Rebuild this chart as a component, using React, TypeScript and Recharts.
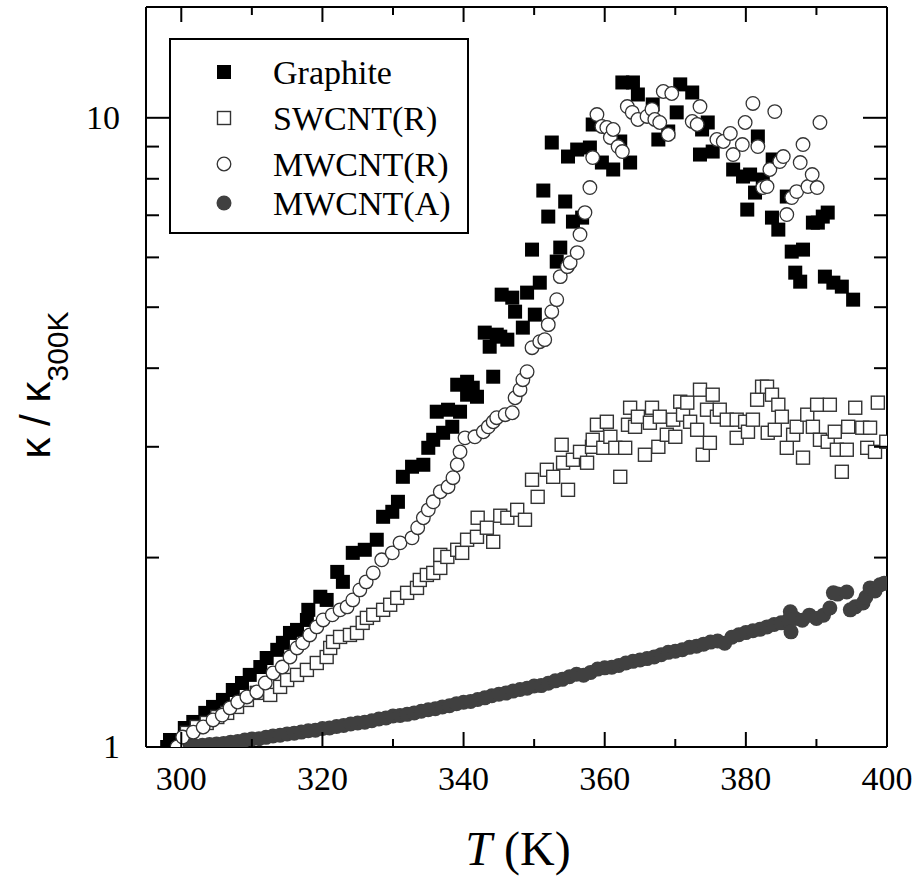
import React from 'react';
import { ScatterChart, Scatter, XAxis, YAxis, Legend } from 'recharts';

// temperature ticks (K) and which of them carry a label
const xTicks = [300, 310, 320, 330, 340, 350, 360, 370, 380, 390, 400];
const xLabels = [300, 320, 340, 360, 380, 400];
// log axis ticks for kappa / kappa_300K
const yTicks = [1, 2, 3, 4, 5, 6, 7, 8, 9, 10];
const yLabels = [1, 10];

// [T (K), kappa / kappa_300K]
const graphite: [number, number][] = [
  [298.0, 1.0], [298.4, 1.026], [300.5, 1.072], [301.7, 1.096], [303.4, 1.133], [304.5, 1.158],
  [305.9, 1.188], [307.3, 1.232], [308.6, 1.264], [309.7, 1.302], [311.2, 1.34], [312.1, 1.385],
  [313.6, 1.427], [314.4, 1.464], [315.4, 1.518], [316.4, 1.535], [317.8, 1.592], [318.0, 1.652],
  [319.7, 1.733], [320.6, 1.713], [322.1, 1.898], [322.9, 1.83], [324.3, 2.035], [326.0, 2.058],
  [327.7, 2.135], [328.6, 2.322], [329.9, 2.365], [330.7, 2.453], [331.4, 2.688], [332.7, 2.789],
  [334.3, 2.809], [335.0, 2.989], [335.7, 3.078], [336.2, 3.411], [337.1, 3.158], [337.8, 3.436],
  [338.4, 3.228], [339.1, 3.765], [339.5, 3.411], [340.5, 3.806], [340.5, 3.63], [341.3, 3.724],
  [341.9, 3.603], [343.0, 4.556], [343.7, 4.327], [344.2, 3.877], [344.7, 4.522], [345.2, 4.489],
  [345.4, 5.235], [346.2, 4.44], [346.9, 5.178], [347.3, 4.919], [348.4, 4.64], [349.0, 5.274],
  [349.7, 6.173], [350.1, 4.866], [350.8, 5.47], [351.3, 7.663], [352.0, 6.966], [352.5, 9.135],
  [353.2, 5.908], [353.7, 6.219], [354.4, 7.361], [354.8, 8.678], [355.5, 6.839], [356.1, 8.903],
  [356.8, 6.94], [357.9, 8.969], [358.3, 9.757], [359.6, 8.49], [361.2, 8.276], [362.2, 9.169],
  [362.5, 11.38], [363.6, 8.49], [364.0, 11.38], [364.7, 10.89], [366.8, 10.5], [367.6, 9.236],
  [369.0, 9.511], [370.2, 10.2], [370.7, 11.3], [372.4, 10.97], [373.5, 8.742], [373.8, 9.581],
  [374.6, 9.83], [375.3, 8.838], [378.2, 8.276], [379.6, 8.066], [380.2, 7.147], [380.6, 8.125],
  [381.3, 7.606], [381.7, 9.339], [382.4, 7.978], [383.7, 6.94], [383.8, 8.585], [384.6, 6.642],
  [385.8, 7.496], [386.5, 6.128], [387.0, 5.674], [387.7, 5.49], [388.1, 6.173], [389.5, 6.814],
  [390.2, 6.814], [390.9, 6.966], [391.2, 5.592], [391.6, 7.069], [392.4, 5.47], [393.6, 5.391],
  [395.2, 5.14],
];

const swcntR: [number, number][] = [
  [300.8, 1.053], [302.2, 1.076], [303.6, 1.092], [305.1, 1.116], [306.5, 1.133], [307.9, 1.158],
  [309.3, 1.188], [310.7, 1.219], [312.6, 1.21], [314.0, 1.246], [315.0, 1.278], [316.4, 1.302],
  [317.8, 1.326], [319.2, 1.36], [320.6, 1.39], [321.1, 1.437], [321.5, 1.469], [322.5, 1.496],
  [323.9, 1.507], [324.9, 1.518], [325.7, 1.575], [326.3, 1.604], [327.2, 1.622], [328.6, 1.652],
  [329.6, 1.683], [330.6, 1.726], [332.0, 1.758], [333.4, 1.79], [333.8, 1.843], [334.8, 1.877],
  [335.7, 1.891], [336.7, 1.926], [336.7, 2.02], [337.7, 2.005], [339.1, 2.058], [339.8, 2.035],
  [340.5, 2.135], [341.9, 2.158], [342.0, 2.314], [343.3, 2.231], [344.2, 2.119], [345.2, 2.331],
  [346.2, 2.314], [347.6, 2.382], [348.7, 2.297], [349.7, 2.659], [350.5, 2.498], [351.8, 2.758],
  [352.7, 2.688], [353.9, 3.022], [354.1, 2.83], [354.8, 2.563], [355.5, 2.861], [356.5, 2.945],
  [357.5, 2.83], [358.2, 3.0], [358.3, 3.078], [358.9, 3.252], [359.8, 2.989], [360.3, 3.288],
  [360.8, 3.112], [361.5, 2.989], [362.2, 2.688], [362.9, 2.989], [363.3, 3.252], [363.6, 3.461],
  [364.3, 3.228], [364.7, 3.349], [365.7, 2.914], [366.4, 3.276], [366.7, 3.461], [367.6, 3.0],
  [367.8, 3.349], [368.8, 3.135], [369.7, 3.313], [370.0, 3.112], [370.7, 3.538], [371.1, 3.374],
  [371.7, 3.526], [372.1, 3.288], [373.1, 3.193], [373.5, 3.697], [373.9, 2.914], [374.5, 3.436],
  [374.9, 3.044], [375.3, 3.63], [375.9, 3.349], [376.3, 3.436], [377.3, 3.313], [378.7, 3.1],
  [378.7, 3.313], [379.9, 3.288], [380.3, 3.17], [381.0, 3.313], [381.6, 3.564], [382.3, 3.738],
  [383.0, 3.738], [383.1, 3.158], [383.7, 3.63], [384.1, 3.193], [384.6, 3.499], [385.1, 3.349],
  [385.8, 2.989], [386.7, 3.135], [387.2, 3.228], [388.1, 2.883], [388.7, 3.374], [389.5, 3.228],
  [390.1, 3.499], [390.5, 3.078], [391.6, 3.056], [391.9, 3.499], [392.6, 3.17], [392.9, 2.968],
  [393.6, 2.738], [394.3, 2.968], [394.5, 3.228], [395.5, 3.461], [396.5, 3.217], [397.2, 2.989],
  [397.6, 3.217], [398.3, 2.945], [398.7, 3.526], [399.9, 3.056],
];

const mwcntR: [number, number][] = [
  [299.4, 1.0], [300.2, 1.037], [301.7, 1.056], [303.1, 1.076], [304.5, 1.104], [305.8, 1.124],
  [306.9, 1.154], [308.0, 1.179], [309.3, 1.201], [310.7, 1.223], [311.9, 1.264], [313.0, 1.311],
  [314.3, 1.34], [315.4, 1.39], [316.4, 1.437], [317.2, 1.464], [318.2, 1.507], [319.2, 1.552],
  [320.1, 1.592], [321.4, 1.622], [322.5, 1.652], [323.5, 1.67], [324.3, 1.713], [325.3, 1.777],
  [326.2, 1.83], [327.2, 1.891], [328.4, 1.984], [329.9, 2.035], [331.0, 2.111], [332.7, 2.15],
  [333.5, 2.231], [334.3, 2.314], [335.0, 2.382], [335.7, 2.453], [336.7, 2.545], [337.8, 2.592],
  [338.5, 2.679], [339.1, 2.809], [339.5, 2.945], [340.2, 3.1], [341.6, 3.112], [342.8, 3.17],
  [343.5, 3.228], [344.2, 3.288], [344.7, 3.337], [345.9, 3.374], [346.9, 3.398], [347.3, 3.59],
  [348.0, 3.697], [348.4, 3.835], [349.0, 3.949], [349.7, 4.311], [350.8, 4.407], [351.5, 4.44],
  [352.0, 4.691], [352.5, 4.919], [353.2, 5.14], [353.7, 5.592], [354.7, 5.8], [355.1, 5.886],
  [356.1, 6.106], [356.5, 6.523], [357.2, 7.069], [357.9, 7.747], [358.3, 8.646], [358.9, 10.12],
  [359.6, 9.687], [360.3, 9.652], [360.8, 9.304], [361.2, 9.581], [361.9, 9.001], [362.5, 8.838],
  [363.2, 10.42], [363.9, 10.2], [364.7, 9.938], [366.0, 10.05], [366.7, 10.31], [367.1, 9.938],
  [367.8, 9.83], [368.3, 11.01], [369.0, 9.407], [369.5, 10.93], [372.4, 9.865], [373.1, 9.757],
  [373.5, 10.42], [375.9, 9.236], [376.8, 9.169], [377.8, 9.441], [378.2, 8.742], [379.5, 9.068],
  [379.9, 9.83], [381.0, 10.54], [381.7, 9.001], [382.4, 7.747], [383.0, 7.775], [383.4, 8.276],
  [384.1, 10.23], [384.8, 8.521], [385.3, 8.678], [385.8, 7.018], [386.5, 7.468], [387.2, 7.633],
  [387.7, 8.49], [388.1, 9.068], [388.8, 7.775], [389.4, 8.125], [390.1, 7.747], [390.5, 9.83],
];

const mwcntA: [number, number][] = [
  [300, 1.0], [301, 1.002], [302, 1.004], [303, 1.006], [304, 1.009], [305, 1.011], [306, 1.013],
  [307, 1.018], [308, 1.02], [309, 1.026], [310, 1.03], [311, 1.031], [312, 1.036], [313, 1.041],
  [314, 1.044], [315, 1.049], [316, 1.052], [317, 1.056], [318, 1.061], [319, 1.063], [320, 1.07],
  [321, 1.072], [322, 1.078], [323, 1.082], [324, 1.088], [325, 1.092], [326, 1.095], [327, 1.101],
  [328, 1.108], [329, 1.112], [330, 1.12], [331, 1.122], [332, 1.127], [333, 1.133], [334, 1.14],
  [335, 1.146], [336, 1.15], [337, 1.158], [338, 1.163], [339, 1.172], [340, 1.178], [341, 1.181],
  [342, 1.19], [343, 1.197], [344, 1.206], [345, 1.213], [346, 1.218], [347, 1.227], [348, 1.234],
  [349, 1.24], [350, 1.25], [351, 1.252], [352, 1.263], [353, 1.274], [354, 1.281], [355, 1.293],
  [356, 1.305], [357, 1.3], [358, 1.314], [359, 1.33], [360, 1.336], [361, 1.339], [362, 1.348],
  [363, 1.36], [364, 1.368], [365, 1.375], [366, 1.382], [367, 1.39], [368, 1.402], [369, 1.414],
  [370, 1.42], [371, 1.428], [372, 1.44], [373, 1.446], [374, 1.457], [375, 1.468], [376, 1.474],
  [377, 1.462], [378, 1.494], [379, 1.508], [380, 1.52], [381, 1.53], [382, 1.538], [383, 1.552],
  [384, 1.566], [385, 1.575], [386, 1.59], [386.3, 1.64], [386.4, 1.524], [387, 1.6], [388, 1.59],
  [389, 1.62], [390, 1.6], [391, 1.62], [391.9, 1.663], [392.4, 1.758], [393, 1.75], [394.3, 1.763],
  [394.8, 1.652], [395.5, 1.67], [396.6, 1.694], [397, 1.73], [397.6, 1.79], [398.3, 1.77],
  [399, 1.81], [399.6, 1.82],
];

const toPoints = (rows: [number, number][]) => rows.map(([t, k]) => ({ t, k }));

const legendItems = [
  { name: 'Graphite', marker: 'filledSquare' },
  { name: 'SWCNT(R)', marker: 'openSquare' },
  { name: 'MWCNT(R)', marker: 'openCircle' },
  { name: 'MWCNT(A)', marker: 'greyDot' },
];

const SERIF = '"Liberation Serif", "Times New Roman", serif';
const SANS = '"Liberation Sans", Arial, sans-serif';

// plot frame edges (chart margin + axis band), used for the mirrored ticks
const PLOT_TOP = 7;
const PLOT_RIGHT = 887;

const drawMarker = (kind: string, cx: number, cy: number) => {
  switch (kind) {
    case 'filledSquare':
      return <rect x={cx - 7} y={cy - 7} width={14} height={14} fill="#000" />;
    case 'openSquare':
      return <rect x={cx - 6.5} y={cy - 6.5} width={13} height={13} fill="#fff" stroke="#333" strokeWidth={1.4} />;
    case 'openCircle':
      return <circle cx={cx} cy={cy} r={6.8} fill="#fff" stroke="#333" strokeWidth={1.3} />;
    default:
      return <circle cx={cx} cy={cy} r={7.5} fill="#404040" />;
  }
};

// bottom axis tick: inward tick, mirrored tick on the top frame, label below
const BottomTick = (props: any) => {
  const { x, y, payload } = props;
  const major = xLabels.includes(payload.value);
  const len = major ? 15 : 8;
  return (
    <g>
      <line x1={x} y1={y} x2={x} y2={y - len} stroke="#000" strokeWidth={2} />
      <line x1={x} y1={PLOT_TOP} x2={x} y2={PLOT_TOP + len} stroke="#000" strokeWidth={2} />
      {major && (
        <text x={x} y={y + 43} textAnchor="middle" fontFamily={SERIF} fontSize={34} fill="#000">
          {payload.value}
        </text>
      )}
    </g>
  );
};

// left axis tick: inward tick, mirrored tick on the right frame, label at left
const LeftTick = (props: any) => {
  const { x, y, payload } = props;
  const major = yLabels.includes(payload.value);
  const len = major ? 24 : 13;
  return (
    <g>
      <line x1={x} y1={y} x2={x + len} y2={y} stroke="#000" strokeWidth={2} />
      <line x1={PLOT_RIGHT} y1={y} x2={PLOT_RIGHT - len} y2={y} stroke="#000" strokeWidth={2} />
      {major && (
        <text x={x - 26} y={y + 11} textAnchor="end" fontFamily={SERIF} fontSize={34} fill="#000">
          {payload.value}
        </text>
      )}
    </g>
  );
};

const XTitle = () => (
  <text x={518} y={865} textAnchor="middle" fontFamily={SERIF} fontSize={48} fill="#000">
    <tspan fontStyle="italic">T</tspan>
    {' (K)'}
  </text>
);

const YTitle = () => (
  <text
    x={50}
    y={385}
    transform="rotate(-90 50 385)"
    textAnchor="middle"
    fontFamily={SANS}
    fontSize={42}
    fill="#000"
  >
    {'κ / κ'}
    <tspan fontSize={30} dy={18}>300K</tspan>
  </text>
);

const LegendBox = () => (
  <svg width={300} height={196} style={{ display: 'block' }}>
    <rect x={1} y={1} width={298} height={194} fill="#fff" stroke="#000" strokeWidth={2} />
    {legendItems.map((item, i) => {
      const markerY = [34, 80, 126, 165][i];
      return (
        <g key={item.name}>
          {drawMarker(item.marker, 55, markerY)}
          <text x={104} y={markerY + 12} fontFamily={SERIF} fontSize={34} fill="#000">
            {item.name}
          </text>
        </g>
      );
    })}
  </svg>
);

const axisLine = { stroke: '#000', strokeWidth: 2 };

export default function App() {
  return (
    <div style={{ position: 'absolute', left: 0, top: 0, background: '#fff' }}>
      <ScatterChart width={914} height={876} margin={{ top: 6, right: 26, bottom: 128, left: 145 }}>
        <XAxis
          xAxisId="bottom"
          dataKey="t"
          type="number"
          domain={[295, 400]}
          allowDataOverflow
          ticks={xTicks}
          interval={0}
          height={1}
          tickSize={0}
          tickMargin={0}
          tickLine={false}
          axisLine={axisLine}
          tick={BottomTick}
          label={<XTitle />}
        />
        <XAxis
          xAxisId="top"
          orientation="top"
          type="number"
          domain={[295, 400]}
          allowDataOverflow
          height={1}
          tickLine={false}
          tick={false}
          axisLine={axisLine}
        />
        <YAxis
          yAxisId="left"
          dataKey="k"
          type="number"
          scale="log"
          domain={[1, 15]}
          allowDataOverflow
          ticks={yTicks}
          interval={0}
          width={1}
          tickSize={0}
          tickMargin={0}
          tickLine={false}
          axisLine={axisLine}
          tick={LeftTick}
          label={<YTitle />}
        />
        <YAxis
          yAxisId="right"
          orientation="right"
          type="number"
          scale="log"
          domain={[1, 15]}
          allowDataOverflow
          width={1}
          tickLine={false}
          tick={false}
          axisLine={axisLine}
        />
        <Legend
          layout="vertical"
          align="center"
          verticalAlign="middle"
          content={() => <LegendBox />}
          wrapperStyle={{ position: 'absolute', left: 169, top: 38, width: 300, height: 196 }}
        />
        <Scatter
          name="Graphite"
          data={toPoints(graphite)}
          xAxisId="bottom"
          yAxisId="left"
          isAnimationActive={false}
          shape={(p: any) => drawMarker('filledSquare', p.cx, p.cy)}
        />
        <Scatter
          name="SWCNT(R)"
          data={toPoints(swcntR)}
          xAxisId="bottom"
          yAxisId="left"
          isAnimationActive={false}
          shape={(p: any) => drawMarker('openSquare', p.cx, p.cy)}
        />
        <Scatter
          name="MWCNT(A)"
          data={toPoints(mwcntA)}
          xAxisId="bottom"
          yAxisId="left"
          isAnimationActive={false}
          shape={(p: any) => drawMarker('greyDot', p.cx, p.cy)}
        />
        <Scatter
          name="MWCNT(R)"
          data={toPoints(mwcntR)}
          xAxisId="bottom"
          yAxisId="left"
          isAnimationActive={false}
          shape={(p: any) => drawMarker('openCircle', p.cx, p.cy)}
        />
      </ScatterChart>
    </div>
  );
}
